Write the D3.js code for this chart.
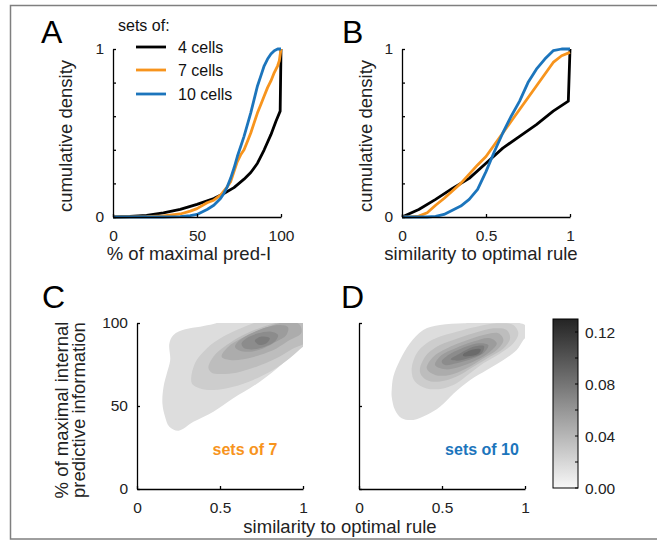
<!DOCTYPE html>
<meta charset="utf-8">
<style>
body,html{margin:0;padding:0;background:#fff;}
svg{display:block;font-family:"Liberation Sans",Arial,sans-serif;}
.axis path,.axis line{stroke:#000;stroke-width:1.3px;}
.axis text{font-size:15.5px;fill:#222;font-family:"Liberation Sans",Arial,sans-serif;}
.lbl{font-size:18.5px;fill:#222;}
.letter{font-size:32px;fill:#000;}
</style>
<svg width="657" height="546"></svg>
<script src="https://d3js.org/d3.v7.min.js"></script>
<script>

// ---- panel A: cumulative density vs % of maximal pred-I ----
var cdfA4 = [[0,0],[10,0.003],[20,0.01],[30,0.025],[40,0.045],[50,0.075],[60,0.11],[66,0.14],[72,0.175],[78,0.225],[82,0.265],[86,0.32],[90,0.4],[94,0.49],[97,0.57],[99.5,0.63],[100,1]];
var cdfA7 = [[0,0],[20,0.002],[30,0.006],[40,0.018],[46,0.035],[50,0.05],[56,0.085],[60,0.1],[64,0.13],[68,0.18],[70,0.21],[72,0.27],[74,0.33],[76,0.37],[78,0.4],[80,0.45],[82,0.5],[84,0.56],[86,0.62],[88,0.67],[90,0.72],[92,0.77],[94,0.81],[96,0.86],[98,0.9],[99,0.93],[100,1]];
var cdfA10 = [[0,0],[30,0],[40,0.002],[46,0.008],[50,0.015],[56,0.045],[60,0.07],[64,0.11],[66,0.14],[68,0.18],[70,0.23],[72,0.29],[74,0.36],[76,0.42],[78,0.48],[80,0.55],[82,0.62],[84,0.7],[86,0.78],[88,0.84],[90,0.9],[92,0.94],[94,0.97],[96,0.99],[98,1],[100,1]];

// ---- panel B: cumulative density vs similarity to optimal rule ----
var cdfB4 = [[0,0],[0.1,0.045],[0.2,0.105],[0.3,0.17],[0.4,0.23],[0.5,0.32],[0.6,0.41],[0.7,0.48],[0.8,0.55],[0.9,0.63],[0.99,0.69],[1,1]];
var cdfB7 = [[0,0],[0.05,0.001],[0.1,0.005],[0.15,0.025],[0.2,0.07],[0.25,0.11],[0.3,0.155],[0.35,0.2],[0.4,0.255],[0.45,0.31],[0.5,0.36],[0.55,0.43],[0.6,0.5],[0.65,0.57],[0.7,0.64],[0.75,0.71],[0.8,0.78],[0.85,0.85],[0.9,0.92],[0.95,0.96],[1,0.98]];
var cdfB10 = [[0,0],[0.15,0],[0.2,0.004],[0.25,0.015],[0.3,0.04],[0.35,0.065],[0.4,0.105],[0.45,0.165],[0.5,0.27],[0.55,0.39],[0.6,0.5],[0.65,0.6],[0.7,0.69],[0.75,0.8],[0.8,0.88],[0.85,0.94],[0.9,0.99],[0.95,1],[1,1]];

var seriesNames = ["4 cells", "7 cells", "10 cells"];
var seriesColors = ["#000000", "#f7941d", "#1c75bc"];

// ---- panels C, D: density contours, [similarity, % of max info] outlines per level ----
var contourLevels = [0.016, 0.026, 0.036, 0.046, 0.056, 0.066, 0.076, 0.086];
var contoursC = [
  [[0.5,100.5],[0.46,99.4],[0.38,97.8],[0.29,96.2],[0.22,92.8],[0.195,87.7],[0.2,77.7],[0.18,69.7],[0.16,61.6],[0.153,51.6],[0.169,43.5],[0.195,37.5],[0.25,35.1],[0.34,40.5],[0.46,46.6],[0.58,54.6],[0.74,64.6],[0.88,75.7],[1.0,86.8],[1.04,92],[1.04,104],[0.75,104]],
  [[0.33,63.7],[0.349,75.7],[0.42,84.7],[0.52,91.8],[0.64,97.4],[0.72,100.5],[0.85,104],[1.04,104],[1.04,88],[1.0,85.7],[0.92,78.7],[0.82,71.7],[0.7,65.7],[0.58,61.6],[0.46,59.6],[0.38,60.6]],
  [[0.45,70.1],[0.43,73],[0.46,79.7],[0.54,86.7],[0.64,92.8],[0.76,97.8],[0.86,100.8],[0.95,104],[1.04,104],[1.04,90],[0.94,84.7],[0.84,78.7],[0.72,73.7],[0.6,70.1],[0.5,69.3]],
  [[0.51,79.7],[0.55,85.7],[0.63,90.8],[0.74,95.8],[0.84,99.4],[0.92,101],[0.98,99],[0.99,94],[0.92,89.7],[0.84,84.7],[0.74,80.7],[0.64,78.1],[0.56,77.7]],
  [[0.59,85.7],[0.62,89.7],[0.69,93.8],[0.78,97.4],[0.86,98.8],[0.91,97.4],[0.9,92.8],[0.84,88.8],[0.76,84.7],[0.68,82.7],[0.62,83.3]],
  [[0.63,87.8],[0.66,90.8],[0.73,93.8],[0.81,94.8],[0.85,92.8],[0.83,88.8],[0.77,85.7],[0.69,84.1],[0.64,85.3]],
  [[0.71,89.4],[0.75,91.8],[0.8,90.8],[0.78,87.8],[0.74,86.7],[0.72,87.8]]
];
var contoursD = [
  [[0.197,59.6],[0.207,67.7],[0.247,77.7],[0.307,87.8],[0.387,95.8],[0.488,98.8],[0.63,99.8],[0.75,101],[0.9,101],[1.01,98],[1.01,92],[0.99,89.8],[0.95,83.7],[0.87,77.7],[0.77,71.7],[0.67,65.7],[0.57,57.6],[0.488,49.6],[0.407,44.6],[0.327,41.6],[0.257,42.6],[0.217,47.6],[0.197,55.6]],
  [[0.317,71.7],[0.347,81.7],[0.407,87.8],[0.488,91.8],[0.588,94.8],[0.709,97.8],[0.83,99.8],[0.93,98.8],[0.96,93.8],[0.93,87.8],[0.85,81.7],[0.749,75.7],[0.669,69.7],[0.588,63.7],[0.508,60.6],[0.407,60.6],[0.337,64.7]],
  [[0.367,70.7],[0.398,79.7],[0.468,85.7],[0.568,89.8],[0.689,93.8],[0.81,96.8],[0.89,95.8],[0.91,90.8],[0.87,84.7],[0.789,79.7],[0.689,73.7],[0.588,67.7],[0.488,64.7],[0.407,65.7]],
  [[0.408,72.7],[0.448,79.7],[0.528,84.7],[0.629,88.8],[0.749,92.8],[0.84,93.8],[0.87,89.8],[0.83,83.7],[0.749,78.7],[0.649,72.7],[0.548,68.7],[0.458,68.7]],
  [[0.458,74.7],[0.498,80.7],[0.578,84.7],[0.689,88.8],[0.789,90.8],[0.83,87.8],[0.789,82.7],[0.709,77.7],[0.608,73.7],[0.518,72.1]],
  [[0.498,76.7],[0.538,80.7],[0.618,84.7],[0.719,87.8],[0.779,86.7],[0.759,82.7],[0.689,78.7],[0.588,75.7],[0.518,74.7]],
  [[0.552,78.1],[0.608,81.7],[0.689,85.7],[0.753,86.1],[0.739,81.7],[0.669,79.1],[0.588,77.3]],
  [[0.628,81.3],[0.689,84.1],[0.733,84.1],[0.721,81.7],[0.669,80.1],[0.628,80.1]]
];
var colorbarTicks = [0, 0.02, 0.04, 0.06, 0.08, 0.10, 0.12];
var colorbarLabels = [0, 0.04, 0.08, 0.12];

var svg = d3.select("svg");

// frame
svg.append("rect").attr("x", 10.5).attr("y", 5.5).attr("width", 652).attr("height", 533.5)
  .attr("fill", "none").attr("stroke", "#7f7f7f").attr("stroke-width", 1.5);

var gray = d3.scaleLinear().domain([0, 0.13]).range(["#f7f7f7", "#242424"]);

function letter(t, x, y) {
  svg.append("text").attr("class", "letter").attr("x", x).attr("y", y).text(t);
}

function cdfPanel(x0, x1, xDom, xTicks, xFmt, data, xlab, xlabX, ylabX) {
  var x = d3.scaleLinear().domain(xDom).range([x0, x1]);
  var y = d3.scaleLinear().domain([0, 1]).range([217, 49]);
  var line = d3.line().x(function(d) { return x(d[0]); }).y(function(d) { return y(d[1]); });
  var g = svg.append("g");
  data.forEach(function(s, i) {
    g.append("path").attr("d", line(s)).attr("fill", "none")
      .attr("stroke", seriesColors[i]).attr("stroke-width", 2.8).attr("stroke-linejoin", "round");
  });
  g.append("g").attr("class", "axis").attr("transform", "translate(0,217)")
    .call(d3.axisBottom(x).tickValues(xTicks).tickFormat(xFmt).tickSizeInner(-3).tickSizeOuter(0).tickPadding(13));
  g.append("g").attr("class", "axis").attr("transform", "translate(" + x0 + ",0)")
    .call(d3.axisLeft(y).tickValues([0, 0.2, 0.4, 0.6, 0.8, 1])
      .tickFormat(function(d) { return (d === 0 || d === 1) ? d : ""; })
      .tickSizeInner(-3).tickSizeOuter(0).tickPadding(9));
  svg.append("text").attr("class", "lbl").attr("x", xlabX).attr("y", 260)
    .attr("text-anchor", "middle").text(xlab);
  svg.append("text").attr("class", "lbl").attr("text-anchor", "middle")
    .attr("transform", "translate(" + ylabX + ",136) rotate(-90)").text("cumulative density");
}

cdfPanel(113, 281, [0, 100], [0, 50, 100], d3.format("d"), [cdfA4, cdfA7, cdfA10], "% of maximal pred-I", 189, 72);
cdfPanel(402, 570, [0, 1], [0, 0.5, 1], function(d) { return d; }, [cdfB4, cdfB7, cdfB10], "similarity to optimal rule", 481, 372);
letter("A", 41, 43);
letter("B", 342, 43);

// legend
svg.append("text").attr("x", 118).attr("y", 31).style("font-size", "16px").attr("fill", "#111").text("sets of:");
seriesNames.forEach(function(n, i) {
  var ly = [47, 70, 94][i];
  svg.append("line").attr("x1", 136).attr("x2", 166).attr("y1", ly).attr("y2", ly)
    .attr("stroke", seriesColors[i]).attr("stroke-width", 2.8);
  svg.append("text").attr("x", 178).attr("y", ly + 6).style("font-size", "16px").attr("fill", "#111").text(n);
});

// contour panels
var defs = svg.append("defs");
function contourPanel(id, x0, x1, polys, label, labelColor, labelX, showY) {
  var x = d3.scaleLinear().domain([0, 1]).range([x0, x1]);
  var y = d3.scaleLinear().domain([0, 100]).range([489, 323]);
  defs.append("clipPath").attr("id", id).append("rect")
    .attr("x", x0).attr("y", 323).attr("width", x1 - x0).attr("height", 166);
  var area = d3.line().curve(d3.curveCatmullRomClosed.alpha(0.5))
    .x(function(d) { return x(d[0]); }).y(function(d) { return y(d[1]); });
  var g = svg.append("g").attr("clip-path", "url(#" + id + ")");
  polys.forEach(function(p, i) {
    g.append("path").attr("d", area(p)).attr("fill", gray(contourLevels[i]));
  });
  svg.append("g").attr("class", "axis").attr("transform", "translate(0,489)")
    .call(d3.axisBottom(x).tickValues([0, 0.5, 1]).tickFormat(function(d) { return d; })
      .tickSizeInner(-3).tickSizeOuter(0).tickPadding(13));
  svg.append("g").attr("class", "axis").attr("transform", "translate(" + x0 + ",0)")
    .call(d3.axisLeft(y).tickValues([0, 50, 100]).tickFormat(showY ? d3.format("d") : function() { return ""; })
      .tickSizeInner(-3).tickSizeOuter(0).tickPadding(9));
  svg.append("text").attr("x", labelX).attr("y", 455).attr("text-anchor", "middle")
    .style("font-size", "16px").style("font-weight", "bold").attr("fill", labelColor).text(label);
}
contourPanel("clipC", 137, 303, contoursC, "sets of 7", seriesColors[1], 245, true);
contourPanel("clipD", 359, 525, contoursD, "sets of 10", seriesColors[2], 482, false);
letter("C", 42, 308);
letter("D", 341, 308);

svg.append("text").attr("class", "lbl").attr("x", 340).attr("y", 533).attr("text-anchor", "middle")
  .text("similarity to optimal rule");
svg.append("text").attr("class", "lbl").attr("text-anchor", "middle")
  .attr("transform", "translate(68,410) rotate(-90)").text("% of maximal internal");
svg.append("text").attr("class", "lbl").attr("text-anchor", "middle")
  .attr("transform", "translate(85,410) rotate(-90)").text("predictive information");

// colorbar
var cb = d3.scaleLinear().domain([0, 0.13]).range([488, 319]);
var grad = defs.append("linearGradient").attr("id", "cbgrad")
  .attr("x1", 0).attr("y1", 1).attr("x2", 0).attr("y2", 0);
d3.range(0, 11).forEach(function(i) {
  grad.append("stop").attr("offset", i / 10).attr("stop-color", gray(0.013 * i));
});
svg.append("rect").attr("x", 553).attr("y", 319).attr("width", 25).attr("height", 169)
  .attr("fill", "url(#cbgrad)").attr("stroke", "#000").attr("stroke-width", 1);
svg.selectAll(".cbtick").data(colorbarTicks).enter().append("line")
  .attr("x1", 575).attr("x2", 578).attr("y1", function(d) { return cb(d); }).attr("y2", function(d) { return cb(d); })
  .attr("stroke", "#000").attr("stroke-width", 1);
svg.selectAll(".cblab").data(colorbarLabels).enter().append("text")
  .attr("x", 585).attr("y", function(d) { return cb(d) + 5.5; })
  .style("font-size", "15.5px").attr("fill", "#222").text(d3.format(".2f"));

</script>
